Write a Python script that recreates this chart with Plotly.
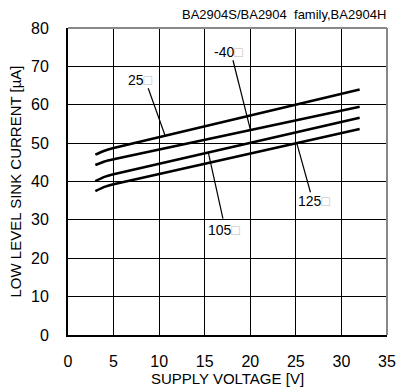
import plotly.graph_objects as go

# Data
voltage = [3, 4, 5, 32]
i_25 = [47.0, 48.0, 48.7, 64.0]
i_m40 = [44.3, 45.2, 45.8, 59.5]
i_105 = [40.1, 41.2, 41.9, 56.6]
i_125 = [37.5, 38.6, 39.3, 53.7]

series = [("25", i_25), ("-40", i_m40), ("105", i_105), ("125", i_125)]

# label text positions and leader lines (label pos, leader start, leader end)
labels = [
    ("25", 8.0, 66.5, 8.8, 64.3, 10.65, 52.0),
    ("-40", 17.6, 73.7, 18.1, 71.6, 20.0, 53.6),
    ("105", 17.1, 27.3, 17.0, 30.3, 15.4, 47.5),
    ("125", 27.0, 34.9, 26.6, 37.2, 25.1, 50.0),
]

FONT = "Arial, Liberation Sans, sans-serif"

fig = go.Figure()
for name, vals in series:
    fig.add_trace(go.Scatter(x=voltage, y=vals, mode="lines", name=name,
                             line=dict(color="black", width=2.6, shape="spline", smoothing=0.6),
                             showlegend=False))

for name, lx, ly, x0, y0, x1, y1 in labels:
    fig.add_trace(go.Scatter(x=[x0, x1], y=[y0, y1], mode="lines",
                             line=dict(color="black", width=1.2), showlegend=False))
    fig.add_annotation(x=lx, y=ly, text=name + "<span style='color:#bbbbbb'>□</span>",
                       showarrow=False, font=dict(family=FONT, size=14, color="black"))

fig.add_annotation(x=388, y=15, xref="paper", yref="paper", xanchor="right", yanchor="middle",
                   text="BA2904S/BA2904\u00a0 family,BA2904H", showarrow=False,
                   font=dict(family=FONT, size=13, color="black"))
# place title annotation in pixel terms converted to paper coords
fig.layout.annotations[-1].x = (388 - 68) / 319
fig.layout.annotations[-1].y = (335 - 15) / 307

axis_common = dict(showgrid=True, gridcolor="black", gridwidth=1, zeroline=False,
                   showline=True, linecolor="black", linewidth=2, mirror=False,
                   ticks="", automargin=False,
                   tickfont=dict(family=FONT, size=16, color="black"))

fig.update_xaxes(range=[0, 35], dtick=5, tick0=0, ticklabelstandoff=11,
                 title=dict(text="SUPPLY VOLTAGE [V]", font=dict(family=FONT, size=15, color="black"), standoff=3),
                 **axis_common)
fig.update_yaxes(range=[0, 80], dtick=10, tick0=0, ticklabelstandoff=14,
                 title=dict(text="LOW LEVEL SINK CURRENT [µA]", font=dict(family=FONT, size=15, color="black"), standoff=6),
                 **axis_common)

# gray top/right frame
fig.add_shape(type="line", xref="paper", yref="paper", x0=0, x1=1, y0=1, y1=1,
              line=dict(color="#888888", width=2))
fig.add_shape(type="line", xref="paper", yref="paper", x0=1, x1=1, y0=0, y1=1,
              line=dict(color="#888888", width=2))

fig.update_layout(width=397, height=390, margin=dict(l=68, r=10, t=28, b=55),
                  plot_bgcolor="white", paper_bgcolor="white")

fig.write_html("out.html", post_script="document.body.style.margin='0';",
               config={"displayModeBar": False})
